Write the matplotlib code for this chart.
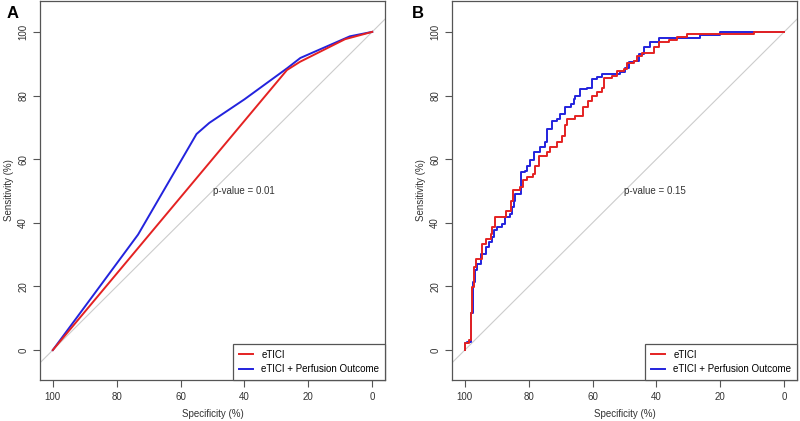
import numpy as np
import matplotlib
matplotlib.use("Agg")
import matplotlib.pyplot as plt

plt.rcParams['font.family'] = ['Liberation Sans', 'DejaVu Sans']

# panel A: ROC vertices (specificity %, sensitivity %)
a_eticl_spec = [100, 26.7, 22.6, 8.5, 0]
a_eticl_sens = [0, 88.0, 90.6, 97.7, 100]
a_perf_spec = [100, 73.3, 55.0, 51.0, 40.0, 26.6, 22.5, 7.0, 0]
a_perf_sens = [0, 36.3, 67.9, 71.4, 78.8, 88.6, 91.8, 98.6, 100]

# panel B: step ROC (specificity where the step happens, sensitivity after it)
b_eticl_spec = [100.0, 98.7, 98.2, 97.6, 97.2, 96.4, 94.6, 93.5, 91.8, 91.4,
                90.6, 87.2, 85.5, 84.9, 82.6, 81.8, 80.5, 78.6, 77.9, 76.9,
                74.2, 73.2, 71.1, 69.6, 68.7, 68.0, 65.4, 63.0, 61.5, 60.2,
                58.6, 57.0, 56.5, 53.9, 52.3, 50.3, 49.2, 47.1, 46.1, 44.5,
                40.9, 39.3, 36.2, 33.6, 30.4, 9.6, 0.0]
b_eticl_sens = [2.1, 3.1, 11.5, 19.9, 26.1, 28.7, 33.4, 35.0, 36.6, 38.7,
                41.8, 43.7, 47.0, 50.2, 51.2, 53.3, 54.3, 55.4, 58.0, 61.1,
                62.2, 63.7, 65.3, 67.4, 70.8, 72.6, 73.7, 76.3, 78.4, 79.9,
                81.0, 82.3, 85.5, 86.2, 87.6, 88.3, 90.1, 90.9, 92.5, 93.5,
                95.1, 96.7, 97.4, 98.4, 99.4, 100.0, 100.0]
b_perf_spec = [100.0, 99.3, 98.2, 97.4, 96.8, 96.1, 94.8, 93.2, 92.5, 91.4,
               90.9, 89.9, 88.3, 87.5, 85.7, 85.2, 84.7, 84.2, 82.3, 81.0,
               80.5, 79.5, 78.4, 76.3, 74.8, 74.2, 72.7, 71.1, 70.1, 68.5,
               66.9, 65.9, 65.4, 63.8, 61.7, 60.2, 58.6, 57.0, 51.3, 49.7,
               48.7, 47.1, 45.6, 44.0, 41.9, 39.3, 26.3, 20.0, 0.0]
b_perf_sens = [2.1, 2.6, 11.5, 21.4, 25.1, 27.2, 30.3, 32.4, 34.0, 35.5,
               37.6, 38.7, 39.7, 41.8, 42.8, 44.9, 47.0, 49.1, 55.9, 56.4,
               58.0, 59.6, 62.2, 63.7, 65.3, 69.5, 72.1, 72.6, 74.2, 76.3,
               77.3, 78.9, 79.9, 82.0, 82.5, 85.2, 85.7, 86.7, 87.3, 88.8,
               90.4, 90.9, 93.0, 95.1, 96.7, 98.2, 99.1, 100.0, 100.0]

ticks = [100, 80, 60, 40, 20, 0]
pvals = ["p-value = 0.01", "p-value = 0.15"]
letters = ["A", "B"]

RED = '#e42222'
BLUE = '#2323dd'
TXT = '#333333'
EDGE = '#555555'
FS = 7.0

fig = plt.figure(figsize=(8, 4.21), dpi=100)
axA = fig.add_axes([40 / 800, 41 / 421, 345 / 800, 379 / 421])
axB = fig.add_axes([452 / 800, 41 / 421, 345 / 800, 379 / 421])

axA.plot(a_eticl_spec, a_eticl_sens, color=RED, lw=1.4, label="eTICI", zorder=3)
axA.plot(a_perf_spec, a_perf_sens, color=BLUE, lw=1.4, label="eTICI + Perfusion Outcome", zorder=2)

axB.plot([100] + b_eticl_spec, [0] + b_eticl_sens, color=RED, lw=1.4, drawstyle='steps-post',
         label="eTICI", zorder=3)
axB.plot([100] + b_perf_spec, [0] + b_perf_sens, color=BLUE, lw=1.4, drawstyle='steps-post',
         label="eTICI + Perfusion Outcome", zorder=2)

for ax, pv in zip([axA, axB], pvals):
    ax.axline((100, 0), (0, 100), color='#cccccc', lw=0.8, zorder=1)
    ax.set_xlim(104, -4)
    ax.set_ylim(-9.4, 109.7)
    ax.set_xticks(ticks)
    ax.set_yticks(ticks[::-1])
    ax.tick_params(colors=EDGE, labelcolor=TXT, labelsize=FS, length=5, width=0.8)
    for lab in ax.get_yticklabels():
        lab.set_rotation(90)
        lab.set_va('center')
    for s in ax.spines.values():
        s.set_color(EDGE)
        s.set_linewidth(0.9)
    ax.set_xlabel("Specificity (%)", fontsize=FS, color=TXT, labelpad=5)
    ax.set_ylabel("Sensitivity (%)", fontsize=FS, color=TXT, labelpad=3)
    ax.text(50, 50, pv, fontsize=FS, color=TXT, ha='left', va='center')
    leg = ax.legend(loc='lower right', borderaxespad=0, fancybox=False,
                    edgecolor=EDGE, framealpha=1, fontsize=FS, handlelength=1.5,
                    handletextpad=0.8, borderpad=0.6, labelspacing=0.45)
    leg.get_frame().set_linewidth(0.9)

fig.text(0.008, 0.985, letters[0], fontsize=12, fontweight='bold', va='top', ha='left')
fig.text(0.515, 0.985, letters[1], fontsize=12, fontweight='bold', va='top', ha='left')

fig.savefig("out.png", dpi=100)
